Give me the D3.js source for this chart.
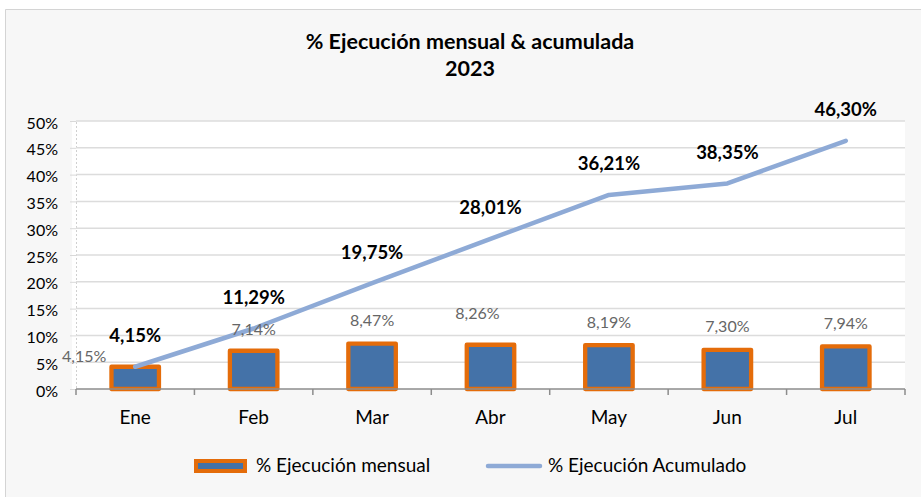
<!DOCTYPE html>
<html>
<head>
<meta charset="utf-8">
<script src="https://cdn.jsdelivr.net/npm/d3@7"></script>
<style>
  body { margin: 0; background: #fff; overflow: hidden; }
  svg { display: block; font-family: Lato, "Open Sans", sans-serif; }
</style>
</head>
<body>
<svg id="chart"></svg>
<script>
/* data */
var months = ["Ene", "Feb", "Mar", "Abr", "May", "Jun", "Jul"];
var mensual = [4.15, 7.14, 8.47, 8.26, 8.19, 7.30, 7.94];
var acumulado = [4.15, 11.29, 19.75, 28.01, 36.21, 38.35, 46.30];
var yTicks = [0, 5, 10, 15, 20, 25, 30, 35, 40, 45, 50];

/* label nudges (dx, dy) for the grey monthly labels, as placed in the original */
var mensualNudge = [[-51, 13], [0, 1.5], [0, 0], [-13, -8], [0, 0], [0, 0], [0, 0]];

var width = 921, height = 497;
var margin = { top: 121, bottom: 108, left: 76, right: 16 };
var innerWidth = width - margin.left - margin.right;
var innerHeight = height - margin.top - margin.bottom;

var fmt = function(v) { return d3.format(".2f")(v).replace(".", ",") + "%"; };

var svg = d3.select("#chart")
    .attr("width", width)
    .attr("height", height);

/* chart frame: fill to the edges, border only on top and left like the original */
svg.append("rect")
    .attr("x", 5).attr("y", 9)
    .attr("width", width - 5).attr("height", height - 9)
    .attr("fill", "#f7f7f7");
svg.append("path")
    .attr("d", "M5.5," + height + "V9.5H" + width)
    .attr("fill", "none")
    .attr("stroke", "#d4d4d4");

/* title */
var title = svg.append("text")
    .attr("text-anchor", "middle")
    .attr("font-weight", "bold")
    .attr("font-size", 21.5)
    .attr("fill", "#000");
title.append("tspan").attr("x", 470).attr("y", 49).text("% Ejecución mensual & acumulada");
title.append("tspan").attr("x", 470).attr("y", 76).text("2023");

var g = svg.append("g")
    .attr("transform", "translate(" + margin.left + "," + margin.top + ")");

/* scales */
var xScale = d3.scaleBand()
    .domain(months)
    .range([0, innerWidth])
    .paddingInner(0.599)
    .paddingOuter(0.2995);

var xPoint = function(m) { return xScale(m) + xScale.bandwidth() / 2; };

var yScale = d3.scaleLinear()
    .domain([0, 50])
    .range([innerHeight, 0]);

/* plot background */
g.append("rect")
    .attr("x", -4).attr("y", 0)
    .attr("width", innerWidth + 4).attr("height", innerHeight)
    .attr("fill", "#fff");

/* y-axis */
var yAxis = d3.axisLeft(yScale)
    .tickValues(yTicks)
    .tickSize(6)
    .tickPadding(12)
    .tickFormat(function(d) { return d + "%"; });

var yAxisG = g.append("g")
    .attr("class", "y-axis")
    .call(yAxis);
yAxisG.attr("font-family", null).attr("font-size", null);
yAxisG.select(".domain")
    .attr("stroke", "#d0d0d0")
    .attr("stroke-dasharray", "2,2");
yAxisG.selectAll(".tick line").attr("stroke", "#d9d9d9");
yAxisG.selectAll(".tick text")
    .attr("font-size", 16)
    .attr("dy", "0.44em")
    .attr("fill", "#000");

/* gridlines */
g.append("g")
    .attr("class", "grid")
    .selectAll("line")
    .data(yTicks.filter(function(d) { return d > 0; }))
    .enter().append("line")
    .attr("x1", 0).attr("x2", innerWidth)
    .attr("y1", function(d) { return yScale(d); })
    .attr("y2", function(d) { return yScale(d); })
    .attr("stroke", "#dcdcdc")
    .attr("stroke-width", 1.5);

/* bars */
g.append("g")
    .selectAll("rect")
    .data(mensual)
    .enter().append("rect")
    .attr("x", function(d, i) { return xScale(months[i]); })
    .attr("y", function(d) { return yScale(d); })
    .attr("width", xScale.bandwidth())
    .attr("height", function(d) { return innerHeight - yScale(d); })
    .attr("fill", "#4472a8")
    .attr("stroke", "#e46c0a")
    .attr("stroke-width", 4.3)
    .attr("stroke-linejoin", "round");

/* x-axis */
var xAxisG = g.append("g")
    .attr("class", "x-axis")
    .attr("transform", "translate(0," + innerHeight + ")");
xAxisG.append("line")
    .attr("x1", 0).attr("x2", innerWidth)
    .attr("stroke", "#8c8c8c").attr("stroke-width", 1.5);
xAxisG.selectAll(".sep")
    .data(d3.range(months.length + 1))
    .enter().append("line")
    .attr("class", "sep")
    .attr("x1", function(i) { return i * innerWidth / months.length; })
    .attr("x2", function(i) { return i * innerWidth / months.length; })
    .attr("y1", 0).attr("y2", 6)
    .attr("stroke", "#8c8c8c").attr("stroke-width", 1.5);
xAxisG.selectAll(".lbl")
    .data(months)
    .enter().append("text")
    .attr("class", "lbl")
    .attr("x", function(m) { return xPoint(m); })
    .attr("y", 35)
    .attr("text-anchor", "middle")
    .attr("font-size", 19)
    .attr("fill", "#000")
    .text(function(m) { return m; });

/* accumulated line */
var line = d3.line()
    .x(function(d, i) { return xPoint(months[i]); })
    .y(function(d) { return yScale(d); });

g.append("path")
    .datum(acumulado)
    .attr("fill", "none")
    .attr("stroke", "#8eaad6")
    .attr("stroke-width", 4.5)
    .attr("stroke-linejoin", "round")
    .attr("stroke-linecap", "round")
    .attr("d", line);

/* labels */
g.append("g")
    .selectAll("text")
    .data(mensual)
    .enter().append("text")
    .attr("x", function(d, i) { return xPoint(months[i]) + mensualNudge[i][0]; })
    .attr("y", function(d, i) { return yScale(d) - 17.5 + mensualNudge[i][1]; })
    .attr("text-anchor", "middle")
    .attr("font-size", 16)
    .attr("fill", "#666666")
    .text(function(d) { return fmt(d); });

g.append("g")
    .selectAll("text")
    .data(acumulado)
    .enter().append("text")
    .attr("x", function(d, i) { return xPoint(months[i]); })
    .attr("y", function(d) { return yScale(d) - 24.5; })
    .attr("text-anchor", "middle")
    .attr("font-size", 18.5)
    .attr("font-weight", "bold")
    .attr("fill", "#000")
    .text(function(d) { return fmt(d); });

/* legend */
var legend = svg.append("g").attr("class", "legend");
legend.append("rect")
    .attr("x", 196).attr("y", 461)
    .attr("width", 49).attr("height", 10)
    .attr("fill", "#4472a8")
    .attr("stroke", "#e46c0a")
    .attr("stroke-width", 4);
legend.append("text")
    .attr("x", 256).attr("y", 472)
    .attr("font-size", 19)
    .text("% Ejecución mensual");
legend.append("line")
    .attr("x1", 488).attr("x2", 540)
    .attr("y1", 466).attr("y2", 466)
    .attr("stroke", "#8eaad6")
    .attr("stroke-width", 4.5)
    .attr("stroke-linecap", "round");
legend.append("text")
    .attr("x", 548).attr("y", 472)
    .attr("font-size", 19)
    .text("% Ejecución Acumulado");
</script>
</body>
</html>
